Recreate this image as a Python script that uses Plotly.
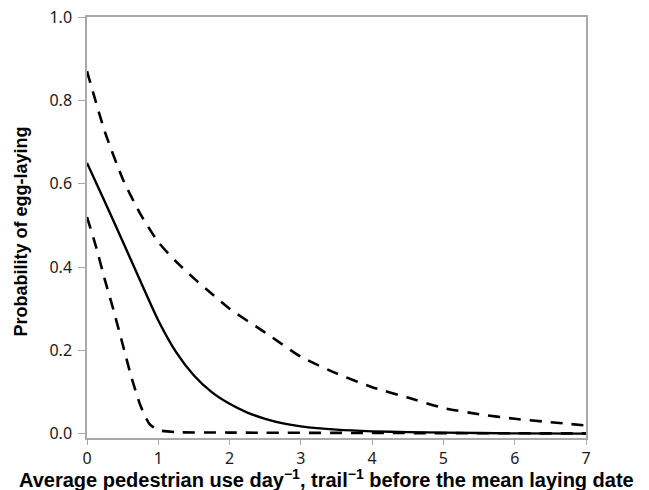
import plotly.graph_objects as go

# Average pedestrian use (x) and probability estimates
x_fit = [0, 0.25, 0.5, 0.75, 1.0, 1.25, 1.5, 1.75, 2.0, 2.25, 2.5, 2.75, 3.0, 3.5, 4.0, 4.5, 5.0, 6.0, 7.0]
p_fit = [0.65, 0.557, 0.462, 0.366, 0.272, 0.196, 0.14, 0.10, 0.072, 0.051, 0.036, 0.025, 0.018, 0.010, 0.006, 0.004, 0.003, 0.001, 0.0005]

x_upper = [0, 0.25, 0.5, 0.75, 1.0, 1.25, 1.5, 1.75, 2.0, 2.5, 3.0, 3.5, 4.0, 4.5, 5.0, 5.5, 6.0, 6.5, 7.0]
p_upper = [0.87, 0.725, 0.612, 0.527, 0.46, 0.413, 0.373, 0.336, 0.30, 0.243, 0.185, 0.145, 0.112, 0.087, 0.062, 0.047, 0.036, 0.028, 0.02]

x_lower = [0, 0.125, 0.25, 0.375, 0.5, 0.625, 0.75, 0.875, 1.0, 1.25, 2.0, 4.0, 7.0]
p_lower = [0.52, 0.45, 0.37, 0.295, 0.215, 0.135, 0.068, 0.024, 0.009, 0.004, 0.003, 0.002, 0.001]

x_ticks = [0, 1, 2, 3, 4, 5, 6, 7]
y_ticks = [0.0, 0.2, 0.4, 0.6, 0.8, 1.0]
y_tick_labels = ["0.0", "0.2", "0.4", "0.6", "0.8", "1.0"]

x_title = "Average pedestrian use day<sup>−1</sup>, trail<sup>−1</sup> before the mean laying date"
y_title = "Probability of egg-laying"

fig = go.Figure()
fig.add_trace(go.Scatter(x=x_upper, y=p_upper, mode="lines",
                         line=dict(color="black", width=2.6, dash="12px,9px", shape="spline", smoothing=0.6),
                         showlegend=False, hoverinfo="skip"))
fig.add_trace(go.Scatter(x=x_lower, y=p_lower, mode="lines",
                         line=dict(color="black", width=2.6, dash="12px,9px", shape="spline", smoothing=0.6),
                         showlegend=False, hoverinfo="skip"))
fig.add_trace(go.Scatter(x=x_fit, y=p_fit, mode="lines",
                         line=dict(color="black", width=2.4, shape="spline", smoothing=0.6),
                         showlegend=False, hoverinfo="skip"))

axis_gray = "#a8a8a8"
# the page body adds an 8px offset, so the figure is 8px smaller on each axis
fig.update_layout(
    width=641, height=482,
    margin=dict(l=79, r=63, t=9, b=52),
    paper_bgcolor="white", plot_bgcolor="white",
    font=dict(family="Noto Sans", size=16, color="#1a1a1a"),
    xaxis=dict(
        range=[0, 7], tickvals=x_ticks, ticktext=[str(v) for v in x_ticks],
        showline=True, linecolor=axis_gray, linewidth=1.5, mirror=True,
        ticks="outside", ticklen=5, tickcolor=axis_gray, tickwidth=1.2,
        showgrid=False, zeroline=False, automargin=False,
        tickfont=dict(family="Noto Sans", size=16, color="#1a1a1a"),
        ticklabeloverflow="allow",
    ),
    yaxis=dict(
        range=[-0.01, 1.0], tickvals=y_ticks, ticktext=y_tick_labels,
        showline=True, linecolor=axis_gray, linewidth=1.5, mirror=True,
        ticks="outside", ticklen=7, tickcolor=axis_gray, tickwidth=1.2,
        showgrid=False, zeroline=False, automargin=False,
        tickfont=dict(family="Noto Sans", size=16, color="#1a1a1a"),
        ticklabelstandoff=3, ticklabeloverflow="allow",
    ),
    annotations=[
        dict(text=x_title, xref="paper", yref="paper", x=0.5, y=0,
             xanchor="center", yanchor="middle", xshift=-10, yshift=-40,
             showarrow=False,
             font=dict(family="Liberation Sans", size=20, color="black", weight="bold")),
        dict(text=y_title, xref="paper", yref="paper", x=0, y=0.5,
             xanchor="center", yanchor="middle", xshift=-67, yshift=-4,
             textangle=-90, showarrow=False,
             font=dict(family="Liberation Sans", size=18, color="black", weight="bold")),
    ],
)

fig.write_html("out.html")
